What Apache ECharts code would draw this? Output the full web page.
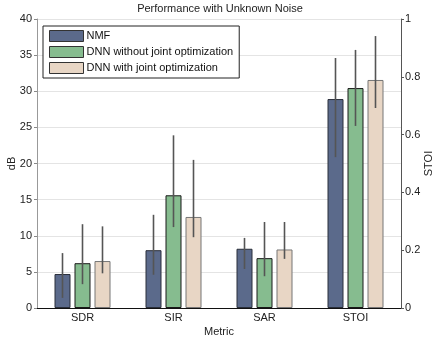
<!DOCTYPE html>
<html>
<head>
<meta charset="utf-8">
<script src="https://cdn.jsdelivr.net/npm/echarts@6/dist/echarts.min.js"></script>
<style>
  html, body { margin: 0; padding: 0; background: #fff; }
  #chart { width: 440px; height: 339px; }
</style>
</head>
<body>
<div id="chart"></div>
<script>
// metrics: first three in dB (left axis), STOI on the right axis
const metrics = ['SDR', 'SIR', 'SAR', 'STOI']
const methods = ['NMF', 'DNN without joint optimization', 'DNN with joint optimization']

const nmfMean = [4.7, 8.0, 8.2, 0.723]
const nmfLow = [1.4, 4.6, 5.4, 0.522]
const nmfHigh = [7.6, 12.9, 9.7, 0.865]

const dnnMean = [6.2, 15.6, 6.9, 0.761]
const dnnLow = [3.3, 11.2, 4.4, 0.63]
const dnnHigh = [11.6, 23.9, 11.9, 0.893]

const jointMean = [6.5, 12.6, 8.1, 0.789]
const jointLow = [4.8, 9.8, 6.8, 0.692]
const jointHigh = [11.3, 20.5, 11.9, 0.941]

const dbTicks = { min: 0, max: 40, interval: 5 }
const stoiTicks = { min: 0, max: 1, interval: 0.2 }

const colors = ['#5b6a8b', '#86bc8f', '#e8d6c5']
const borders = ['#2a2f3a', '#1a1a1a', '#777777']
const BAR_W = 16
const BAR_GAP = 4

const means = [nmfMean, dnnMean, jointMean]
const lows = [nmfLow, dnnLow, jointLow]
const highs = [nmfHigh, dnnHigh, jointHigh]

const STOI_IDX = 3

function dbPart(arr) {
  return arr.map((v, i) => (i === STOI_IDX ? '-' : v))
}
function stoiPart(arr) {
  return arr.map((v, i) => (i === STOI_IDX ? v : '-'))
}

const series = []
methods.forEach((name, m) => {
  const style = { color: colors[m], borderColor: borders[m], borderWidth: 1 }
  series.push({
    name, type: 'bar', xAxisIndex: 0, yAxisIndex: 0,
    barWidth: BAR_W, barGap: '25%',
    data: dbPart(means[m]), itemStyle: style
  })
  series.push({
    name, type: 'bar', xAxisIndex: 1, yAxisIndex: 1,
    barWidth: BAR_W, barGap: '25%',
    data: stoiPart(means[m]), itemStyle: style
  })
})

// error bars, drawn through the axes with the bar offset
methods.forEach((name, m) => {
  const offset = (m - 1) * (BAR_W + BAR_GAP)
  const render = function (params, api) {
    const p1 = api.coord([api.value(0), api.value(1)])
    const p2 = api.coord([api.value(0), api.value(2)])
    return {
      type: 'line',
      shape: { x1: p1[0] + offset, y1: p1[1], x2: p2[0] + offset, y2: p2[1] },
      style: { stroke: '#555', lineWidth: 1.6 }
    }
  }
  const dbData = []
  const stoiData = []
  metrics.forEach((c, i) => {
    const row = [i, lows[m][i], highs[m][i]]
    if (i === STOI_IDX) stoiData.push(row)
    else dbData.push(row)
  })
  series.push({
    type: 'custom', xAxisIndex: 0, yAxisIndex: 0, z: 5, silent: true,
    renderItem: render, data: dbData
  })
  series.push({
    type: 'custom', xAxisIndex: 1, yAxisIndex: 1, z: 5, silent: true,
    renderItem: render, data: stoiData
  })
})

const labelStyle = { color: '#222', fontSize: 11, fontFamily: 'Liberation Sans' }

const chart = echarts.init(document.getElementById('chart'))
chart.setOption({
  animation: false,
  textStyle: { fontFamily: 'Liberation Sans' },
  title: {
    text: 'Performance with Unknown Noise',
    left: 'center',
    top: -2,
    textStyle: { fontSize: 11, fontWeight: 'normal', color: '#222', fontFamily: 'Liberation Sans' }
  },
  legend: {
    data: methods,
    orient: 'vertical',
    left: 43,
    top: 26,
    padding: [4, 6, 4, 6],
    itemWidth: 34,
    itemHeight: 11,
    itemGap: 4,
    icon: 'rect',
    itemStyle: { borderWidth: 1, borderColor: '#333' },
    borderColor: '#222',
    borderWidth: 1,
    backgroundColor: '#fff',
    textStyle: { fontSize: 11, color: '#111', padding: [0, 0, 0, -2], fontFamily: 'Liberation Sans' }
  },
  grid: { left: 37, right: 39, top: 19, bottom: 31, outerBoundsMode: 'none' },
  xAxis: [
    {
      type: 'category',
      data: metrics,
      axisLine: { lineStyle: { color: '#111' } },
      axisTick: { show: false },
      axisLabel: Object.assign({ margin: 4 }, labelStyle),
      name: 'Metric',
      nameLocation: 'middle',
      nameGap: 18,
      nameMoveOverlap: false,
      nameTextStyle: labelStyle
    },
    {
      type: 'category',
      data: metrics,
      show: false
    }
  ],
  yAxis: [
    {
      type: 'value',
      min: dbTicks.min, max: dbTicks.max, interval: dbTicks.interval,
      name: 'dB',
      nameLocation: 'middle',
      nameRotate: 90,
      nameGap: 20,
      nameMoveOverlap: false,
      nameTextStyle: labelStyle,
      axisLine: { show: true, lineStyle: { color: '#999' } },
      axisTick: { show: true, length: 3, lineStyle: { color: '#888' } },
      axisLabel: Object.assign({ margin: 5 }, labelStyle),
      splitLine: { lineStyle: { color: '#e4e4e4' } }
    },
    {
      type: 'value',
      position: 'right',
      min: stoiTicks.min, max: stoiTicks.max, interval: stoiTicks.interval,
      name: 'STOI',
      nameLocation: 'middle',
      nameRotate: 90,
      nameGap: 22,
      nameMoveOverlap: false,
      nameTextStyle: labelStyle,
      axisLine: { show: true, lineStyle: { color: '#555' } },
      axisTick: { show: true, length: 3, lineStyle: { color: '#555' } },
      axisLabel: Object.assign({ margin: 4 }, labelStyle),
      splitLine: { show: false }
    }
  ],
  series
})
</script>
</body>
</html>
